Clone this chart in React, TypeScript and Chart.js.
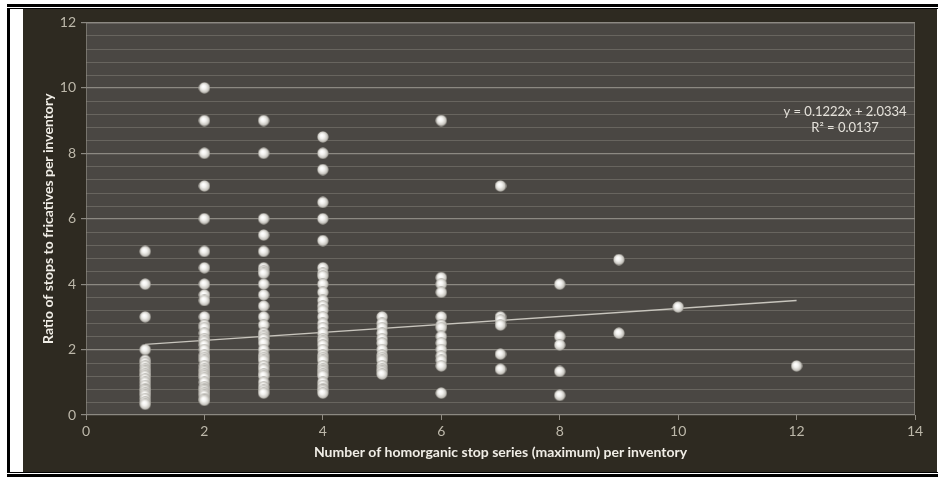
import React, { useEffect, useRef } from "react";
import { Chart, registerables } from "chart.js";

Chart.register(...registerables);

// ---- data ----
const xColumns = [1, 2, 3, 4, 5, 6, 7, 8, 9, 10, 12];
const ratiosAt1 = [5, 4, 3, 2, 1.67, 1.6, 1.5, 1.4, 1.33, 1.25, 1.2, 1.1, 1.0, 0.9, 0.8, 0.75, 0.67, 0.6, 0.5, 0.4, 0.33];
const ratiosAt2 = [10, 9, 8, 7, 6, 5, 4.5, 4, 3.67, 3.5, 3, 2.75, 2.67, 2.5, 2.33, 2.25, 2.14, 2, 1.83, 1.75, 1.67, 1.5, 1.4, 1.33, 1.25, 1.2, 1.14, 1, 0.86, 0.8, 0.75, 0.67, 0.6, 0.5, 0.45];
const ratiosAt3 = [9, 8, 6, 5.5, 5, 4.5, 4.4, 4.33, 4, 3.67, 3.33, 3, 2.75, 2.5, 2.4, 2.33, 2.2, 2, 1.83, 1.75, 1.67, 1.5, 1.4, 1.25, 1.2, 1, 0.86, 0.75, 0.67];
const ratiosAt4 = [8.5, 8, 7.5, 6.5, 6, 5.33, 4.5, 4.33, 4.25, 4, 3.75, 3.5, 3.33, 3.2, 3, 2.8, 2.67, 2.5, 2.33, 2.25, 2.14, 2, 1.83, 1.75, 1.67, 1.5, 1.4, 1.33, 1.25, 1.2, 1, 0.9, 0.8, 0.75, 0.67];
const ratiosAt5 = [3, 2.8, 2.67, 2.5, 2.33, 2.2, 2, 1.83, 1.75, 1.67, 1.5, 1.4, 1.33, 1.25];
const ratiosAt6 = [9, 4.2, 4, 3.75, 3, 2.75, 2.67, 2.4, 2.2, 2, 1.8, 1.67, 1.5, 0.67];
const ratiosAt7 = [7, 3, 2.9, 2.75, 1.86, 1.4];
const ratiosAt8 = [4, 2.4, 2.14, 1.33, 0.6];
const ratiosAt9 = [4.75, 2.5];
const ratiosAt10 = [3.3];
const ratiosAt12 = [1.5];
const ratiosByColumn = [ratiosAt1, ratiosAt2, ratiosAt3, ratiosAt4, ratiosAt5, ratiosAt6, ratiosAt7, ratiosAt8, ratiosAt9, ratiosAt10, ratiosAt12];

const trendSlope = 0.1222;
const trendIntercept = 2.0334;
const trendXRange = [1, 12];
const equationLines = ["y = 0.1222x + 2.0334", "R\u00b2 = 0.0137"];

const xTitle = "Number of homorganic stop series (maximum) per inventory";
const yTitle = "Ratio of stops to fricatives per inventory";

const FONT = "Lato, 'DejaVu Sans', sans-serif";

function makeSphere(size: number): HTMLCanvasElement {
  const c = document.createElement("canvas");
  c.width = size;
  c.height = size;
  const g = c.getContext("2d")!;
  const r = size / 2;
  const grad = g.createRadialGradient(r * 0.8, r * 0.75, r * 0.1, r, r, r);
  grad.addColorStop(0, "#ffffff");
  grad.addColorStop(0.35, "#f2f1ee");
  grad.addColorStop(0.75, "#cac8c2");
  grad.addColorStop(1, "#8a8780");
  g.fillStyle = grad;
  g.beginPath();
  g.arc(r, r, r - 0.3, 0, Math.PI * 2);
  g.fill();
  return c;
}

const plotDecor = {
  id: "plotDecor",
  beforeDraw(chart: any) {
    const { ctx, chartArea } = chart;
    const y = chart.scales.y;
    ctx.save();
    ctx.fillStyle = "#4a4743";
    ctx.fillRect(chartArea.left, chartArea.top, chartArea.right - chartArea.left, chartArea.bottom - chartArea.top);
    ctx.strokeStyle = "rgba(125,122,115,0.6)";
    ctx.lineWidth = 1.2;
    for (let k = 1; k < 30; k++) {
      if (k % 5 === 0) continue;
      const py = Math.round(y.getPixelForValue(k * 0.4)) + 0.5;
      ctx.beginPath();
      ctx.moveTo(chartArea.left, py);
      ctx.lineTo(chartArea.right, py);
      ctx.stroke();
    }
    ctx.strokeStyle = "rgba(150,146,138,0.6)";
    ctx.lineWidth = 1;
    ctx.strokeRect(chartArea.left + 0.5, chartArea.top + 0.5, chartArea.right - chartArea.left - 1, chartArea.bottom - chartArea.top - 1);
    ctx.restore();
  },
  afterDraw(chart: any) {
    const { ctx, chartArea } = chart;
    ctx.save();
    ctx.fillStyle = "#e4e1da";
    ctx.font = "13px " + FONT;
    ctx.textAlign = "center";
    ctx.textBaseline = "middle";
    const cx = chartArea.right - 70;
    ctx.fillText(equationLines[0], cx, chartArea.top + 89);
    ctx.fillText(equationLines[1], cx, chartArea.top + 105);
    ctx.restore();
  },
};

export default function App() {
  const ref = useRef<HTMLCanvasElement | null>(null);

  useEffect(() => {
    if (!ref.current) return;
    const sphere = makeSphere(12);
    const points: { x: number; y: number }[] = [];
    xColumns.forEach((xv, i) => {
      ratiosByColumn[i].forEach((yv) => points.push({ x: xv, y: yv }));
    });
    const trend = trendXRange.map((xv) => ({ x: xv, y: trendSlope * xv + trendIntercept }));

    const chart = new Chart(ref.current, {
      type: "scatter",
      data: {
        datasets: [
          {
            type: "line",
            data: trend,
            borderColor: "#c8c5bd",
            borderWidth: 1.3,
            pointRadius: 0,
            fill: false,
            order: 2,
          } as any,
          {
            type: "scatter",
            data: points,
            pointStyle: sphere,
            pointRadius: 6,
            order: 1,
          } as any,
        ],
      },
      options: {
        responsive: false,
        animation: false,
        layout: { padding: { top: 13, right: 22, left: 0, bottom: 0 } },
        plugins: { legend: { display: false }, tooltip: { enabled: false } },
        scales: {
          x: {
            type: "linear",
            min: 0,
            max: 14,
            ticks: { stepSize: 2, color: "#bdb8aa", font: { family: FONT, size: 14 }, padding: 3 },
            grid: { drawOnChartArea: false, drawTicks: true, tickLength: 5, tickColor: "#8f8b82" },
            border: { display: false },
            title: {
              display: true,
              text: xTitle,
              color: "#f0ede6",
              font: { family: FONT, size: 14, weight: "bold" },
              padding: { top: 0, bottom: 11 },
            },
            afterFit: (s: any) => {
              s.height = 57;
            },
          },
          y: {
            type: "linear",
            min: 0,
            max: 12,
            ticks: { stepSize: 2, color: "#bdb8aa", font: { family: FONT, size: 14 }, padding: 5 },
            grid: { color: "#8c8982", lineWidth: 1.2, tickLength: 5, tickColor: "#8c8982" },
            border: { display: false },
            title: {
              display: true,
              text: yTitle,
              color: "#f0ede6",
              font: { family: FONT, size: 14, weight: "bold" },
              padding: { top: 17, bottom: 0 },
            },
            afterFit: (s: any) => {
              s.width = 63;
            },
          },
        },
      } as any,
      plugins: [plotDecor],
    });
    return () => chart.destroy();
  }, []);

  const black = "#000";
  return (
    <div style={{ position: "fixed", left: 0, top: 0, width: 938, height: 477, background: "#fff", overflow: "hidden" }}>
      <div style={{ position: "absolute", left: 7, top: 4, width: 931, height: 3, background: black }} />
      <div style={{ position: "absolute", left: 7, top: 8, width: 931, height: 1, background: black }} />
      <div style={{ position: "absolute", left: 7, top: 8, width: 3, height: 465, background: black }} />
      <div style={{ position: "absolute", left: 7, top: 472, width: 931, height: 1, background: black }} />
      <div style={{ position: "absolute", left: 7, top: 474, width: 931, height: 3, background: black }} />
      <div style={{ position: "absolute", left: 23, top: 9, width: 914, height: 463, background: "#2e2a21" }}>
        <canvas ref={ref} width={914} height={463} style={{ display: "block" }} />
      </div>
    </div>
  );
}
